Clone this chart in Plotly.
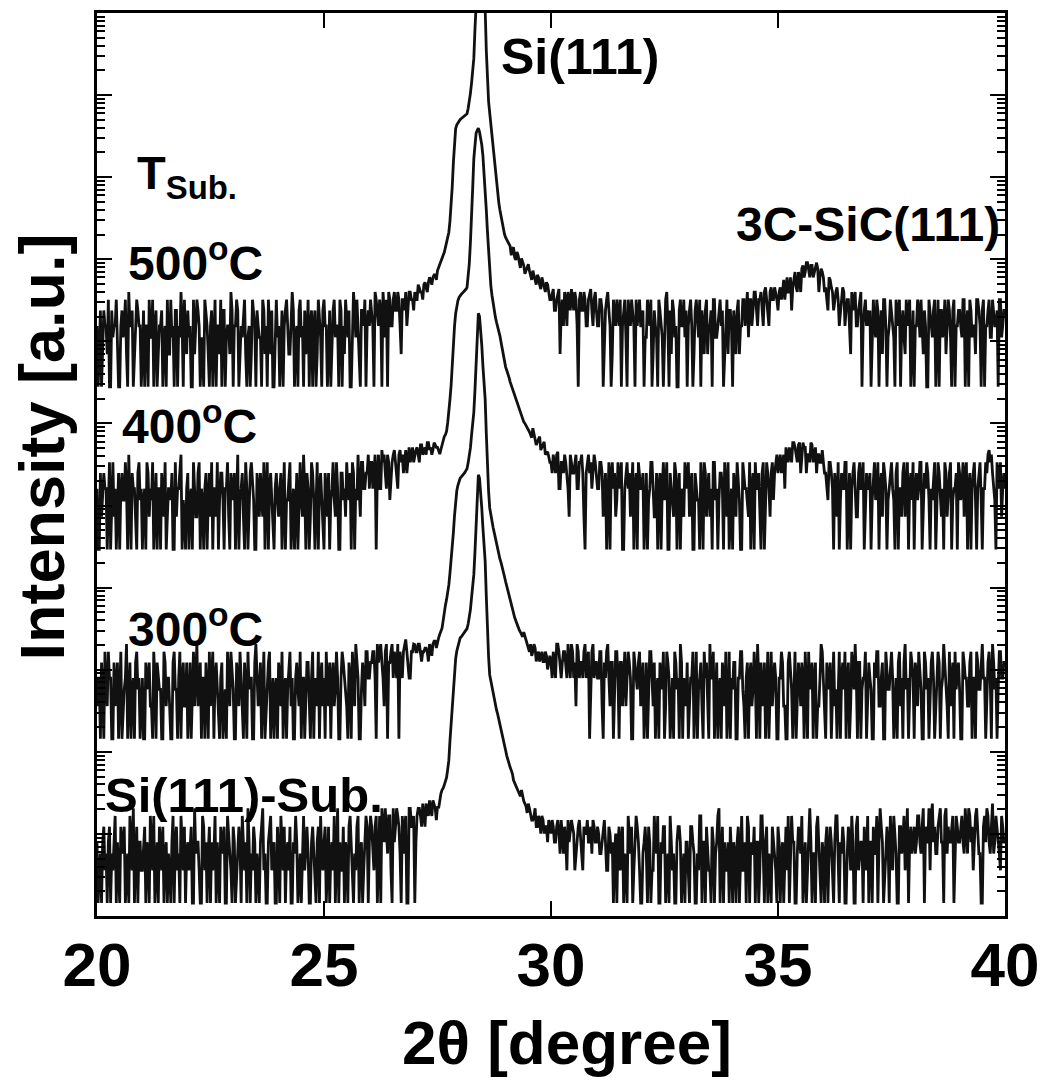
import plotly.graph_objects as go

# 2-theta scan grid (degrees): main points every 0.05 and the in-between points
two_theta = [round(20 + 0.05 * i, 2) for i in range(401)]
two_theta_mid = [round(20.025 + 0.05 * i, 3) for i in range(400)]

# relative intensities (floor of each pattern ~ 4)
sub_counts = [
    22,10,4,34,16,22,4,10,46,22,4,16,34,10,4,22,57,16,4,22,
    10,34,22,4,16,46,10,4,22,34,16,4,10,22,4,34,16,46,10,4,
    22,16,4,57,22,10,4,34,22,16,4,10,46,22,4,16,34,4,22,10,
    34,4,16,22,46,10,4,22,16,34,4,10,22,57,16,4,34,10,22,4,
    16,46,10,4,22,34,4,16,22,10,4,46,22,16,4,34,10,22,4,16,
    22,4,34,16,10,4,57,22,10,4,16,34,22,4,10,46,16,4,22,34,
    22,34,10,46,22,4,34,57,16,46,4,22,57,34,4,16,46,4,57,34,
    4,46,57,34,46,65,46,57,71,57,60,71,95,110,135,220,600,1600,3800,5400,
    6800,7300,7900,8800,12000,21000,40000,150000,660000,420000,150000,58000,8000,2400,1700,1200,900,700,520,400,
    290,220,180,150,115,100,85,95,70,60,65,50,41,57,34,41,46,28,34,41,
    28,34,22,41,16,28,34,10,22,41,28,16,34,22,10,28,41,22,16,34,
    22,28,16,34,22,10,28,22,16,4,34,22,4,10,46,16,4,22,34,10,
    4,22,16,34,4,10,22,46,4,16,34,10,4,22,16,4,34,22,10,4,
    22,4,34,16,4,10,46,22,4,16,10,34,4,22,57,16,4,10,22,34,
    4,16,22,4,46,10,4,34,22,16,4,22,10,46,4,34,16,4,22,10,
    34,4,22,16,10,4,46,22,4,34,16,4,22,10,57,4,16,34,22,4,
    16,22,4,34,10,22,46,4,16,22,4,34,10,22,4,46,16,22,34,10,
    4,22,34,16,4,57,22,10,34,4,22,46,16,4,34,22,10,57,22,16,
    34,22,46,16,57,34,22,10,65,34,16,46,22,4,57,34,22,46,16,34,
    22,46,16,34,57,22,10,46,34,16,4,46,57,22,34,16,46,22,10,34,
    22,
]
sub_counts_mid = [
    4,16,22,10,4,34,16,22,4,10,34,22,4,16,46,10,4,34,22,10,
    22,4,16,46,10,4,22,34,10,4,22,16,4,46,22,10,4,22,34,16,
    10,34,4,16,22,4,46,10,4,34,22,16,4,10,34,22,4,46,16,4,
    22,10,34,4,16,22,57,4,10,22,16,4,34,10,4,22,46,16,4,34,
    4,22,34,16,10,4,22,46,4,16,22,10,34,4,22,16,4,34,46,10,
    34,10,4,22,46,16,4,10,34,22,4,46,10,16,34,4,22,10,46,4,
    46,16,34,4,46,57,22,34,46,10,57,34,46,16,46,34,4,57,34,46,
    22,57,46,65,34,57,71,46,65,41,57,86,100,120,170,380,1000,2600,4700,6200,
    7000,7600,8300,10000,15000,29000,75000,350000,600000,260000,95000,22000,4000,2000,1400,1050,800,600,460,340,
    250,200,165,125,110,90,80,76,65,50,57,41,46,34,46,28,41,34,22,34,
    41,22,34,28,41,16,22,41,28,34,10,28,41,16,34,28,22,34,41,22,
    34,16,22,41,10,34,16,4,28,22,10,34,16,4,28,34,10,46,22,4,
    16,34,4,22,10,46,16,4,22,34,4,16,46,10,4,22,34,4,16,22,
    10,34,22,4,16,46,4,22,34,10,4,22,16,46,4,34,22,10,4,16,
    22,4,34,16,10,22,46,4,16,34,22,4,46,16,22,4,10,34,16,4,
    22,16,4,34,46,10,22,4,16,22,46,10,4,34,22,16,4,46,10,22,
    4,34,16,22,4,46,10,22,34,4,16,22,46,4,34,10,22,4,16,46,
    22,4,16,46,22,34,4,16,22,46,10,22,4,34,16,46,22,4,34,22,
    16,46,22,34,4,22,57,46,22,16,34,57,22,46,16,22,34,4,46,22,
    34,22,57,16,46,34,22,57,16,4,34,22,46,16,65,22,34,16,46,22,
]

t300_counts = [
    10,22,34,4,16,46,22,4,10,34,22,4,16,57,10,4,22,34,16,4,
    22,4,16,34,10,46,4,22,16,4,34,22,10,4,46,16,22,4,34,10,
    4,34,22,10,57,16,4,22,34,4,10,46,22,16,4,34,10,4,22,46,
    16,4,22,46,10,34,4,16,22,4,57,10,34,22,4,16,46,10,4,22,
    34,10,4,22,16,46,22,4,34,10,4,22,16,34,4,46,22,10,4,34,
    22,46,10,4,34,16,22,4,46,22,10,34,4,16,57,22,4,34,10,46,
    22,34,46,4,34,57,22,46,4,34,57,46,22,4,34,46,65,34,22,46,
    56,46,57,35,46,51,35,51,57,62,62,75,89,143,200,300,580,1300,3300,4900,
    6000,6400,7000,7800,11000,20000,38000,140000,610000,400000,140000,55000,8500,2600,1800,1300,950,700,560,450,
    330,260,190,150,120,100,85,75,80,65,51,57,46,51,41,35,46,35,41,35,
    34,46,22,57,28,34,46,22,34,57,22,10,46,34,22,57,34,4,46,22,
    34,22,46,4,22,57,10,34,22,46,4,34,22,10,46,22,4,34,16,46,
    22,4,34,16,46,10,4,22,34,16,4,46,22,10,4,34,22,57,4,16,
    34,10,22,4,46,16,34,4,22,10,57,22,4,34,16,4,22,46,10,4,
    16,34,4,22,46,10,22,4,34,16,22,57,4,10,34,22,4,46,16,22,
    4,22,34,10,4,46,16,22,4,34,10,22,46,4,16,34,22,4,10,57,
    22,4,16,34,22,10,4,46,22,16,4,34,10,22,57,4,34,16,22,4,
    34,16,4,22,46,10,34,4,22,16,46,4,22,34,10,4,57,22,16,34,
    4,22,46,16,4,34,22,10,46,4,22,34,16,57,22,4,10,34,46,22,
    16,4,34,22,10,46,22,4,34,16,57,22,10,46,4,34,22,16,46,22,
    34,
]
t300_counts_mid = [
    22,4,16,46,10,22,4,34,16,4,46,10,22,4,34,16,4,46,22,10,
    4,34,22,10,4,22,34,16,4,46,10,22,4,34,16,4,46,22,10,34,
    16,4,46,22,10,34,22,4,16,46,22,4,34,10,22,4,16,46,10,22,
    4,34,10,22,4,16,46,22,4,34,22,16,4,46,10,34,4,22,16,4,
    22,46,16,4,34,10,4,22,16,46,22,4,34,10,22,4,16,46,22,10,
    4,16,34,22,10,46,4,22,34,16,4,22,46,10,34,4,16,22,46,22,
    34,46,22,57,46,34,10,57,34,46,22,34,57,46,22,57,46,22,46,57,
    46,57,41,46,51,46,57,41,62,51,68,82,110,170,240,420,850,2100,4200,5500,
    6200,6700,7400,9200,14000,27000,70000,320000,560000,250000,90000,21000,4200,2100,1500,1100,820,620,500,380,
    290,220,170,135,110,90,80,70,72,57,46,41,57,35,46,41,35,46,28,41,
    22,34,57,46,22,46,34,57,22,46,34,57,22,34,46,22,46,22,57,34,
    22,46,10,34,46,22,34,4,46,22,34,10,46,22,34,4,46,22,34,10,
    34,16,4,46,22,34,16,4,22,46,10,34,4,22,46,16,4,34,22,10,
    4,22,46,16,4,22,10,46,34,4,22,46,16,4,22,34,10,4,46,22,
    34,4,22,46,16,4,34,22,10,46,4,22,34,16,4,46,22,10,34,4,
    22,46,10,4,34,22,4,46,16,22,34,4,16,46,22,4,34,10,22,46,
    10,34,22,4,46,16,22,4,34,46,22,4,46,16,22,34,4,22,46,10,
    22,4,34,46,10,22,4,46,16,34,22,10,4,46,22,34,16,4,46,22,
    34,10,22,4,46,16,4,34,22,10,46,4,22,34,10,46,22,4,16,34,
    4,46,22,10,34,4,22,46,16,34,22,4,34,22,57,16,4,46,22,34,
]

t400_counts = [
    22,4,10,34,22,16,4,46,22,10,4,34,16,22,57,4,22,10,34,16,
    4,22,46,10,16,4,34,22,4,16,46,10,22,34,4,10,22,57,16,4,
    34,16,4,22,10,46,22,4,34,16,10,4,22,46,16,34,4,22,10,34,
    22,4,57,16,34,4,22,10,46,16,4,22,34,10,4,46,22,16,4,34,
    10,34,22,4,16,46,10,4,34,22,16,57,4,22,10,34,4,46,22,16,
    4,22,34,16,46,10,22,4,34,22,46,16,4,34,22,57,10,46,22,34,
    22,46,34,4,57,22,46,34,57,16,46,65,34,57,46,34,65,57,46,70,
    57,70,46,75,65,57,80,70,65,75,70,58,75,95,110,180,400,1300,3000,4300,
    5000,5300,5600,6200,12000,40000,230000,470000,540000,420000,250000,100000,30000,9000,5000,3100,2340,1870,1340,880,
    670,560,440,360,290,240,200,170,143,130,115,100,120,90,82,95,70,82,60,54,
    46,57,34,62,22,46,57,34,10,46,34,57,22,46,34,4,46,34,22,57,
    34,22,46,10,34,22,4,46,34,16,22,46,4,34,22,10,46,22,4,34,
    22,4,34,16,46,22,10,4,34,22,16,46,4,22,10,34,22,4,16,46,
    22,10,34,4,22,16,46,4,34,22,10,4,46,22,16,34,4,22,46,10,
    4,22,46,16,4,34,22,10,4,34,46,22,10,34,4,46,22,34,16,46,
    34,57,46,22,57,70,46,80,57,75,34,80,70,57,46,75,57,34,57,46,
    46,34,16,46,22,34,10,4,34,22,46,16,4,34,22,10,46,22,4,34,
    22,4,34,16,46,22,10,34,4,22,46,16,34,4,22,34,10,46,22,16,
    4,34,22,46,10,22,34,4,16,46,22,34,10,4,34,22,46,16,22,4,
    34,22,10,46,22,4,34,16,22,46,4,22,34,65,57,22,4,34,46,22,
    22,
]
t400_counts_mid = [
    4,34,16,22,4,46,22,10,4,34,22,16,46,4,10,34,22,4,46,22,
    16,4,34,22,46,10,4,22,34,10,4,22,16,4,46,22,34,4,10,22,
    4,22,46,10,34,4,16,22,4,34,46,22,10,4,34,16,22,46,4,16,
    34,16,4,22,10,46,4,34,22,4,34,10,16,46,22,4,34,10,22,16,
    22,4,46,16,34,4,22,16,4,46,10,22,34,4,46,16,22,4,34,10,
    34,10,4,22,16,46,4,34,16,10,22,34,46,4,16,22,46,22,34,57,
    46,22,57,34,22,65,57,22,46,34,57,46,22,65,57,46,34,70,57,46,
    65,57,75,57,70,80,65,57,80,70,62,66,85,100,140,270,750,2100,3700,4700,
    5150,5450,5900,8000,22000,100000,350000,510000,490000,340000,160000,55000,16000,6500,3900,2700,2100,1600,1100,760,
    610,500,400,320,265,220,185,155,137,122,108,92,105,75,88,65,75,57,62,46,
    34,46,57,22,46,34,46,22,57,34,46,22,46,57,10,34,57,46,34,46,
    22,46,34,22,4,46,34,22,10,46,34,4,22,46,34,22,4,34,46,22,
    34,16,4,22,46,10,34,22,4,46,22,4,34,16,46,4,34,22,10,34,
    46,22,4,34,16,4,22,46,10,34,22,46,16,4,34,22,46,10,4,22,
    34,10,22,4,46,22,16,46,22,4,22,34,4,46,22,34,10,46,34,57,
    46,34,57,70,46,57,80,70,46,80,57,70,34,57,80,46,70,57,46,65,
    34,22,46,34,4,22,46,16,22,46,4,34,22,46,10,34,22,46,16,22,
    34,16,46,22,4,34,46,22,16,34,22,4,46,22,10,46,22,4,34,46,
    22,16,46,4,34,46,16,22,34,4,46,16,22,46,10,34,4,22,34,46,
    16,46,34,4,34,22,46,4,34,16,22,46,57,46,34,16,46,22,10,34,
]

t500_counts = [
    22,10,4,34,22,46,4,16,22,10,4,34,22,10,57,22,4,16,34,22,
    10,4,22,46,16,4,34,10,22,4,22,46,10,16,4,34,22,57,4,16,
    34,22,4,10,46,22,16,4,34,10,22,4,46,22,10,4,34,16,22,57,
    4,22,34,10,16,46,4,22,10,34,4,22,16,46,10,4,22,34,4,46,
    22,16,4,34,22,10,57,4,22,34,16,4,10,46,22,4,34,10,22,4,
    46,22,10,4,34,16,22,46,4,10,22,34,4,57,16,22,4,34,46,22,
    22,34,4,46,22,34,57,16,4,46,22,57,34,46,10,46,57,34,57,46,
    57,46,64,57,70,64,75,80,86,92,104,124,146,174,230,305,610,2160,5600,6600,
    7200,7600,8000,8450,11600,20000,40000,200000,1000000,1500000,700000,160000,18700,8700,4560,2280,1130,700,465,330,
    264,230,206,190,150,175,130,146,120,104,124,92,104,80,92,70,86,62,75,57,
    46,62,34,57,10,46,57,22,46,62,34,46,4,57,34,46,22,57,34,46,
    34,22,46,4,34,57,22,10,34,46,22,4,34,16,46,22,34,4,22,46,
    22,4,16,34,46,10,22,4,34,16,22,57,4,10,34,22,4,46,22,16,
    4,34,22,10,46,16,4,22,34,10,22,4,46,16,34,22,4,22,10,34,
    4,22,34,10,22,46,34,16,46,34,57,22,46,34,57,46,22,65,46,57,
    34,65,57,46,86,57,34,80,65,100,57,120,100,130,86,120,100,130,57,110,
    86,65,34,80,57,46,65,22,46,57,34,46,10,34,57,22,46,4,34,22,
    22,4,46,16,34,22,10,46,4,22,34,16,46,22,4,34,10,22,46,16,
    4,22,34,46,10,22,4,34,16,46,22,4,34,22,10,46,16,34,4,22,
    34,16,46,22,4,34,22,10,46,22,34,4,22,46,16,34,22,4,46,22,
    34,
]
t500_counts_mid = [
    4,34,16,22,10,4,34,22,46,4,22,16,46,4,22,34,10,46,22,4,
    34,22,4,16,46,22,4,22,34,16,4,10,46,22,34,4,16,22,46,10,
    16,4,46,22,34,4,10,46,22,4,34,16,4,22,46,34,4,22,10,34,
    22,46,4,22,34,10,16,4,46,22,34,16,4,34,22,46,10,4,22,16,
    4,34,22,46,10,22,34,16,4,46,22,34,16,4,34,22,4,46,16,34,
    22,4,34,16,46,22,4,34,22,46,16,4,22,34,46,10,34,22,4,34,
    46,22,57,34,46,4,34,46,57,22,46,34,57,22,46,34,22,57,46,34,
    46,70,57,46,75,57,86,70,92,80,115,135,160,200,265,420,1100,3800,6200,6900,
    7400,7800,8200,9800,15000,29000,90000,500000,1300000,1200000,350000,50000,12000,6300,3200,1600,880,570,390,290,
    245,215,160,200,140,160,112,135,95,115,104,80,92,70,86,62,75,57,70,46,
    57,34,46,62,34,22,46,57,34,46,57,22,46,34,57,22,46,62,22,57,
    22,46,34,16,46,34,4,46,22,34,46,22,46,4,34,46,22,46,34,22,
    34,16,46,22,4,34,16,46,22,4,46,22,34,46,16,4,34,22,46,34,
    22,46,4,34,22,46,34,10,46,22,34,46,16,22,46,34,10,46,34,22,
    34,10,46,22,46,22,57,46,22,57,34,46,57,22,65,34,57,46,65,46,
    57,46,80,65,57,86,65,100,57,86,110,86,130,100,120,86,120,110,86,100,
    57,46,86,65,34,57,46,34,65,22,46,22,57,46,22,34,57,22,46,34,
    34,16,22,46,4,34,46,22,16,46,22,4,34,46,22,16,46,34,4,34,
    22,46,16,22,34,4,46,22,34,4,46,34,16,46,22,34,4,46,22,34,
    22,46,4,34,46,16,22,46,34,4,46,22,34,16,46,22,34,46,16,34,
]

series_names = ["Si(111)-Sub.", "300°C", "400°C", "500°C"]
series_main = [sub_counts, t300_counts, t400_counts, t500_counts]
series_mid = [sub_counts_mid, t300_counts_mid, t400_counts_mid, t500_counts_mid]
stack_factor = [0.36, 36, 7300, 700000]   # vertical offset of each pattern on the log axis

x_ticks = [20, 25, 30, 35, 40]

FONT = "Liberation Sans, Arial, Helvetica, sans-serif"

# page body has an 8 px margin: the figure is sized/placed to compensate
W, H = 1039, 1073
ML, MR, MT, MB = 89, 42, 2, 165
PX0, PY0 = 8, 8
PL, PR = PX0 + ML, PX0 + W - MR          # plot area in page pixels (97..1005)
PT, PB = PY0 + MT, PY0 + H - MB          # (10..916)

fig = go.Figure()
for name, main, mid, f in zip(series_names, series_main, series_mid, stack_factor):
    xs, ys = [], []
    for i in range(len(main)):
        xs.append(two_theta[i]); ys.append(main[i] * f)
        if i < len(mid):
            xs.append(two_theta_mid[i]); ys.append(mid[i] * f)
    fig.add_trace(go.Scatter(
        x=xs, y=ys, mode="lines", name=name,
        line=dict(color="#111111", width=2.8), showlegend=False,
    ))

fig.update_layout(
    width=W, height=H,
    margin=dict(l=ML, r=MR, t=MT, b=MB),
    paper_bgcolor="white", plot_bgcolor="white",
    font=dict(family=FONT, color="black"),
)

fig.update_xaxes(
    range=[20, 40], tickvals=x_ticks, ticktext=[str(v) for v in x_ticks],
    ticks="inside", ticklen=15, tickwidth=2, tickcolor="black",
    showline=True, linewidth=3.2, linecolor="black", mirror="ticks",
    showgrid=False, zeroline=False,
    tickfont=dict(size=62, family=FONT, weight="bold"),
    ticklabelstandoff=-8,
)
fig.update_yaxes(
    type="log", range=[0, 11], dtick=1,
    ticks="inside", ticklen=15, tickwidth=2, tickcolor="black",
    minor=dict(ticks="inside", ticklen=8, tickwidth=2, tickcolor="black", showgrid=False),
    showline=True, linewidth=3.2, linecolor="black", mirror="allticks",
    showgrid=False, zeroline=False, showticklabels=False,
)

def px2paper(x, y):
    return (x - PL) / float(PR - PL), (PB - y) / float(PB - PT)

labels = [
    ("Si(111)", 499, 54, 50),
    ("3C-SiC(111)", 734, 222, 48),
    ("T<sub>Sub.</sub>", 135, 174, 47),
    ("500<sup>o</sup>C", 126, 258, 48),
    ("400<sup>o</sup>C", 120, 421, 48),
    ("300<sup>o</sup>C", 126, 625, 48),
    ("Si(111)-Sub.", 103, 795, 49),
]
for text, px, py, size in labels:
    xp, yp = px2paper(px, py)
    fig.add_annotation(
        x=xp, y=yp, xref="paper", yref="paper", text=text, showarrow=False,
        xanchor="left", yanchor="middle",
        font=dict(size=size, family=FONT, color="black", weight="bold"),
    )

# axis titles
xp, yp = px2paper(42, 446)
fig.add_annotation(x=xp, y=yp, xref="paper", yref="paper", text="Intensity [a.u.]",
                   textangle=-90, showarrow=False, xanchor="center", yanchor="middle",
                   font=dict(size=63, family=FONT, color="black", weight="bold"))
xp, yp = px2paper(567, 1043)
fig.add_annotation(x=xp, y=yp, xref="paper", yref="paper", text="2θ [degree]",
                   showarrow=False, xanchor="center", yanchor="middle",
                   font=dict(size=62, family=FONT, color="black", weight="bold"))

fig.write_html("out.html", config={"displayModeBar": False})
